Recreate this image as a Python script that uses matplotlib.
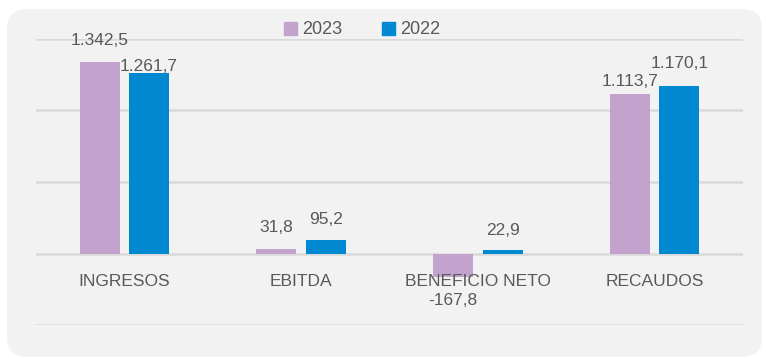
import matplotlib
matplotlib.use("Agg")
import matplotlib.pyplot as plt
import matplotlib.patches as mpatches
from matplotlib.transforms import IdentityTransform
import numpy as np

# Datos (miles de millones)
categorias = ["INGRESOS", "EBITDA", "BENEFICIO NETO", "RECAUDOS"]
valores_2023 = [1342.5, 31.8, -167.8, 1113.7]
valores_2022 = [1261.7, 95.2, 22.9, 1170.1]
etiquetas_2023 = ["1.342,5", "31,8", "-167,8", "1.113,7"]
etiquetas_2022 = ["1.261,7", "95,2", "22,9", "1.170,1"]

color_2023 = "#C3A3CD"
color_2022 = "#0088D1"
color_texto = "#595959"

plt.rcParams['font.family'] = ['Liberation Sans Narrow', 'Liberation Sans', 'DejaVu Sans']

fig = plt.figure(figsize=(7.66, 3.58), dpi=100)
fig.patch.set_facecolor("white")

# Fondo gris redondeado
fondo = mpatches.FancyBboxPatch((7, 1), 755, 348,
                                boxstyle="round,pad=0,rounding_size=20",
                                transform=IdentityTransform(),
                                facecolor="#F2F2F2", edgecolor="none", zorder=-10)
fig.patches.append(fondo)

ax = fig.add_axes([36 / 766, 33 / 358, 707 / 766, 286 / 358])
ax.set_facecolor("none")
ax.set_zorder(1)

x = np.arange(len(categorias))
ancho = 0.226
sep = 0.14

ax.bar(x - sep, valores_2023, ancho, color=color_2023, label="2023", zorder=2)
ax.bar(x + sep, valores_2022, ancho, color=color_2022, label="2022", zorder=2)

ax.set_xlim(-0.5, 3.5)
ax.set_ylim(-500, 1500)
for y in [-500, 0, 500, 1000, 1500]:
    ax.axhline(y, color="#D9D9D9", lw=1.8, zorder=1)

for s in ax.spines.values():
    s.set_visible(False)
ax.set_xticks([])
ax.set_yticks([])

# Etiquetas de datos (desplazamiento vertical en pixeles)
dy_2023 = [21, 21, -23, 13]
dy_2022 = [7, 20, 20, 23]
for i in range(len(categorias)):
    ax.annotate(etiquetas_2023[i], (x[i] - sep, valores_2023[i]),
                xytext=(0, dy_2023[i]), textcoords="offset pixels",
                ha="center", va="center", fontsize=12.5, color=color_texto, zorder=3)
    ax.annotate(etiquetas_2022[i], (x[i] + sep, valores_2022[i]),
                xytext=(0, dy_2022[i]), textcoords="offset pixels",
                ha="center", va="center", fontsize=12.5, color=color_texto, zorder=3)
    ax.annotate(categorias[i], (x[i], 0), xytext=(0, -28), textcoords="offset pixels",
                ha="center", va="center", fontsize=12.5, color=color_texto, zorder=3)

handles = [mpatches.Patch(color=color_2023, label="2023"),
           mpatches.Patch(color=color_2022, label="2022")]
leg = fig.legend(handles=handles, loc="center", bbox_to_anchor=(362 / 766, 1 - 30 / 358),
                 ncol=2, frameon=False, fontsize=13, handlelength=0.7, handleheight=0.7,
                 handletextpad=0.3, columnspacing=2.2)
for t in leg.get_texts():
    t.set_color(color_texto)

fig.savefig("out.png", dpi=100)
